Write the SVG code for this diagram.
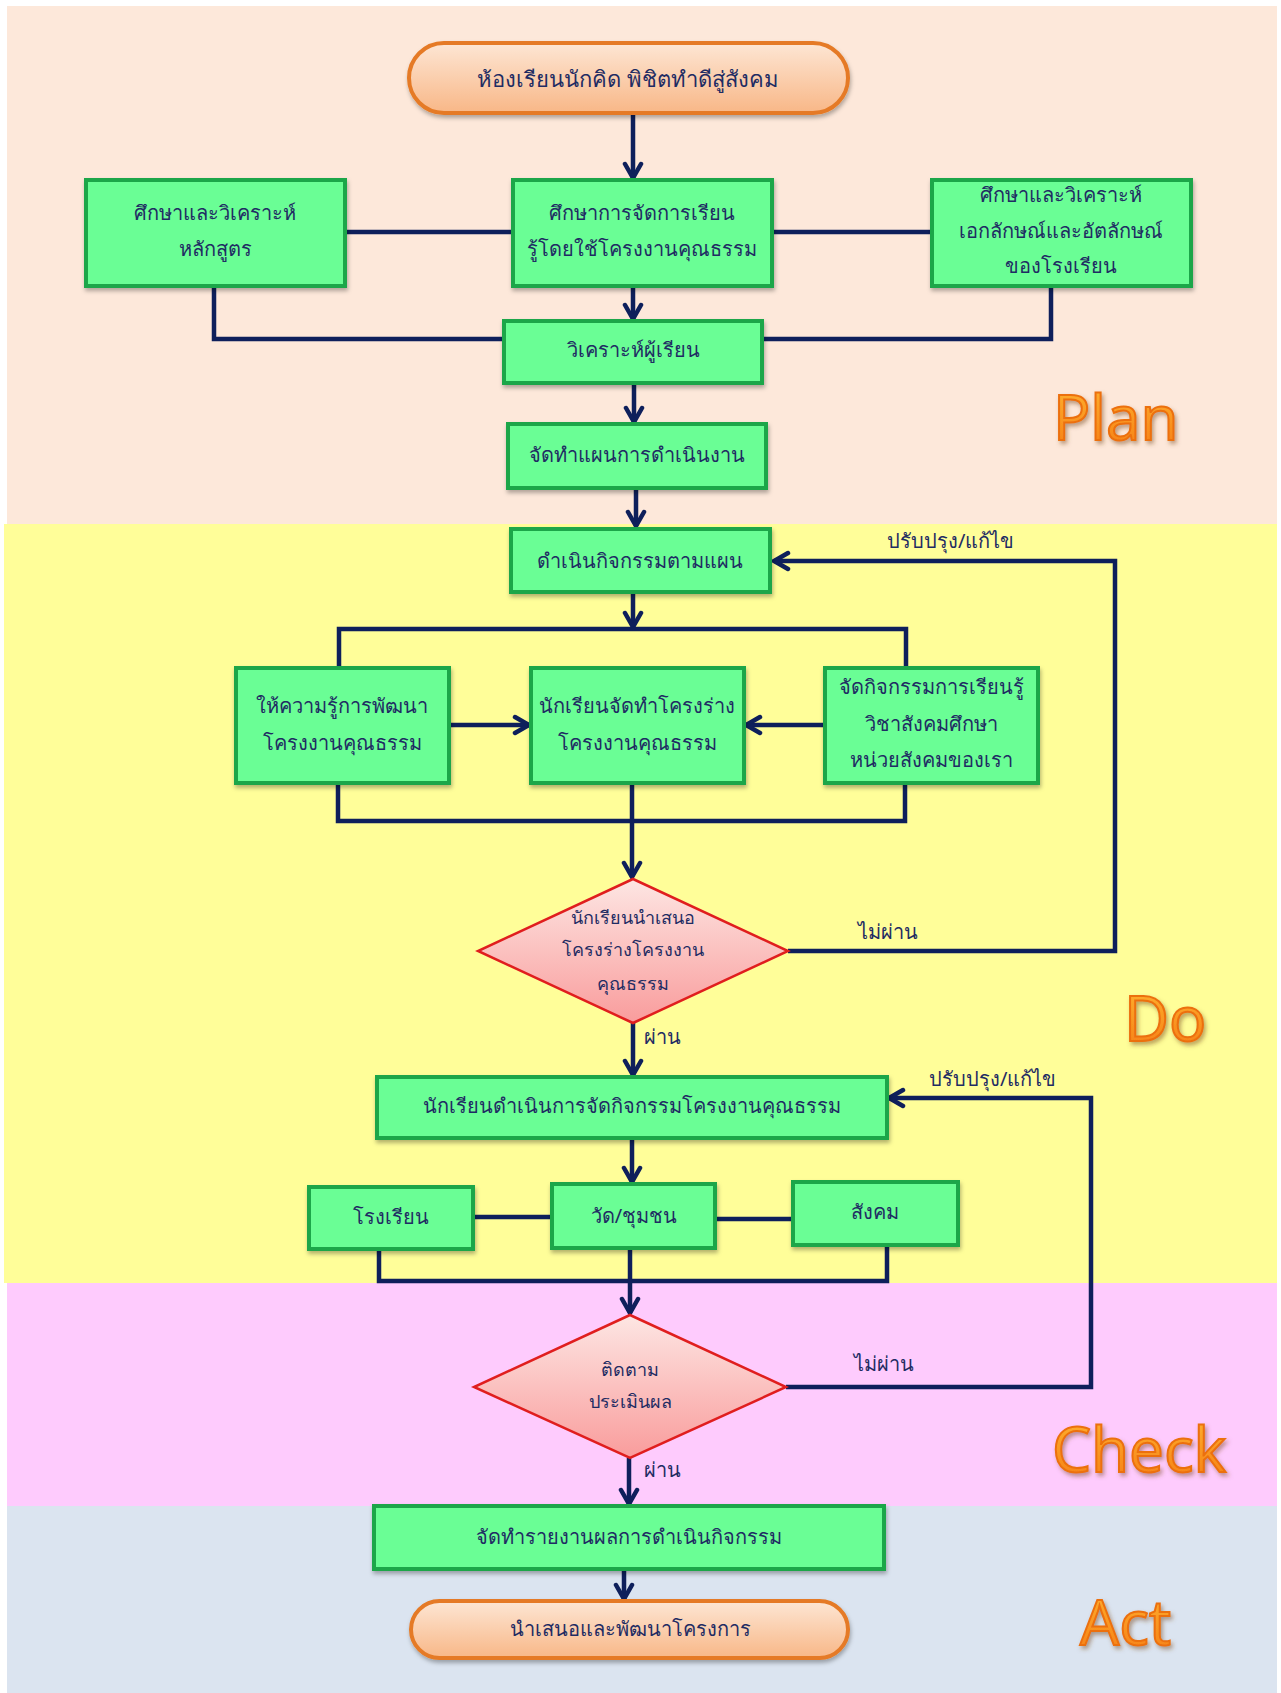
<svg xmlns="http://www.w3.org/2000/svg" width="1281" height="1693" viewBox="0 0 1281 1693">
<defs>
<linearGradient id="gTerm" x1="0" y1="0" x2="0" y2="1"><stop offset="0" stop-color="#fde6d4"/><stop offset="1" stop-color="#f8b787"/></linearGradient>
<linearGradient id="gDia" x1="0" y1="0" x2="0" y2="1"><stop offset="0" stop-color="#fde6e3"/><stop offset="1" stop-color="#f99c9c"/></linearGradient>
<linearGradient id="gPhase" x1="0" y1="0" x2="0" y2="1"><stop offset="0" stop-color="#ffb833"/><stop offset="1" stop-color="#f57a12"/></linearGradient>
<filter id="sh" x="-10%" y="-10%" width="120%" height="130%"><feDropShadow dx="1" dy="3" stdDeviation="2" flood-color="#000" flood-opacity="0.3"/></filter>
<filter id="psh" x="-10%" y="-10%" width="130%" height="140%"><feDropShadow dx="2" dy="3" stdDeviation="2" flood-color="#7a4a20" flood-opacity="0.5"/></filter>
<marker id="arr" markerUnits="userSpaceOnUse" markerWidth="24" markerHeight="24" viewBox="0 0 24 24" refX="20" refY="12" orient="auto">
<path d="M6,4 L20,12 L6,20" fill="none" stroke="#0e1f5b" stroke-width="4.5" stroke-linecap="round" stroke-linejoin="miter"/>
</marker>
<style>
.box{fill:#6bfe95;stroke:#1ca64a;stroke-width:4;filter:url(#sh)}
.term{fill:url(#gTerm);stroke:#e57a25;stroke-width:4;filter:url(#sh)}
.dia{fill:url(#gDia);stroke:#e01e1e;stroke-width:2.5}
.t{font-family:"Noto Sans","DejaVu Sans",sans-serif;font-size:20px;fill:#1f2c63;text-anchor:middle;dominant-baseline:central}
.ts{font-size:18px}
.lbl{font-family:"Noto Sans","DejaVu Sans",sans-serif;font-size:20px;fill:#1f2c63;dominant-baseline:central}
.ln{fill:none;stroke:#0e1f5b;stroke-width:4.5}
.ar{fill:none;stroke:#0e1f5b;stroke-width:4.5;marker-end:url(#arr)}
.ph{font-family:"Open Sans","Lato",sans-serif;font-size:62px;fill:url(#gPhase);stroke:#ec6f10;stroke-width:2;filter:url(#psh)}
</style>
</defs>
<g id="background">
<rect x="7" y="6" width="1270" height="518" fill="#fde8da"/>
<rect x="4" y="524" width="1273" height="759" fill="#fffe99"/>
<rect x="7" y="1283" width="1270" height="223" fill="#fecbfd"/>
<rect x="7" y="1506" width="1270" height="187" fill="#dbe4f0"/>
</g>
<g id="phases">
<text class="ph" x="1053" y="440">Plan</text>
<text class="ph" x="1124" y="1041">Do</text>
<text class="ph" x="1052" y="1472">Check</text>
<text class="ph" x="1080" y="1645">Act</text>
</g>
<g id="connectors">
<line class="ar" x1="633" y1="113" x2="633" y2="178"/>
<line class="ln" x1="345" y1="232" x2="513" y2="232"/>
<line class="ln" x1="772" y1="232" x2="932" y2="232"/>
<polyline class="ln" points="214,286 214,339 505,339"/>
<polyline class="ln" points="1051,286 1051,339 762,339"/>
<line class="ar" x1="633" y1="286" x2="633" y2="319"/>
<line class="ar" x1="634" y1="383" x2="634" y2="422"/>
<line class="ar" x1="636" y1="488" x2="636" y2="526"/>
<line class="ar" x1="633" y1="592" x2="633" y2="627"/>
<polyline class="ln" points="339,668 339,629 906,629 906,668"/>
<line class="ar" x1="449" y1="725" x2="529" y2="725"/>
<line class="ar" x1="825" y1="725" x2="746" y2="725"/>
<polyline class="ln" points="338,783 338,821 905,821 905,783"/>
<line class="ar" x1="632" y1="783" x2="632" y2="877"/>
<polyline class="ar" points="788,951 1115,951 1115,561 774,561"/>
<line class="ar" x1="633" y1="1023" x2="633" y2="1075"/>
<line class="ar" x1="632" y1="1138" x2="632" y2="1182"/>
<line class="ln" x1="473" y1="1217" x2="552" y2="1217"/>
<line class="ln" x1="715" y1="1219" x2="793" y2="1219"/>
<polyline class="ln" points="379,1249 379,1281 887,1281 887,1245"/>
<line class="ar" x1="630" y1="1248" x2="630" y2="1313"/>
<polyline class="ar" points="786,1387 1091,1387 1091,1098 889,1098"/>
<line class="ar" x1="629" y1="1458" x2="629" y2="1504"/>
<line class="ar" x1="624" y1="1569" x2="624" y2="1599"/>
<text class="lbl" x="887" y="540">ปรับปรุง/แก้ไข</text>
<text class="lbl" x="858" y="931">ไม่ผ่าน</text>
<text class="lbl" x="644" y="1036">ผ่าน</text>
<text class="lbl" x="929" y="1078">ปรับปรุง/แก้ไข</text>
<text class="lbl" x="854" y="1363">ไม่ผ่าน</text>
<text class="lbl" x="644" y="1469">ผ่าน</text>
</g>
<g id="n_start"><rect class="term" x="409" y="43" width="439" height="70" rx="35"/><text class="t" x="628" y="78" style="font-size:22px;font-weight:500">ห้องเรียนนักคิด พิชิตทำดีสู่สังคม</text></g>
<g id="n_curriculum"><rect class="box" x="86" y="180" width="259" height="106"/><text class="t" x="215" y="212">ศึกษาและวิเคราะห์</text><text class="t" x="215" y="248">หลักสูตร</text></g>
<g id="n_study"><rect class="box" x="513" y="180" width="259" height="106"/><text class="t" x="642" y="212">ศึกษาการจัดการเรียน</text><text class="t" x="642" y="248">รู้โดยใช้โครงงานคุณธรรม</text></g>
<g id="n_identity"><rect class="box" x="932" y="180" width="259" height="106"/><text class="t" x="1061" y="194">ศึกษาและวิเคราะห์</text><text class="t" x="1061" y="230">เอกลักษณ์และอัตลักษณ์</text><text class="t" x="1061" y="265">ของโรงเรียน</text></g>
<g id="n_learner"><rect class="box" x="504" y="321" width="258" height="62"/><text class="t" x="633" y="349">วิเคราะห์ผู้เรียน</text></g>
<g id="n_plan"><rect class="box" x="508" y="424" width="258" height="64"/><text class="t" x="637" y="454">จัดทำแผนการดำเนินงาน</text></g>
<g id="n_do"><rect class="box" x="511" y="529" width="259" height="63"/><text class="t" x="640" y="560">ดำเนินกิจกรรมตามแผน</text></g>
<g id="n_knowledge"><rect class="box" x="236" y="668" width="213" height="115"/><text class="t" x="342" y="705">ให้ความรู้การพัฒนา</text><text class="t" x="342" y="742">โครงงานคุณธรรม</text></g>
<g id="n_draft"><rect class="box" x="531" y="668" width="213" height="115"/><text class="t" x="637" y="705">นักเรียนจัดทำโครงร่าง</text><text class="t" x="637" y="742">โครงงานคุณธรรม</text></g>
<g id="n_social"><rect class="box" x="825" y="668" width="213" height="115"/><text class="t" x="931" y="686">จัดกิจกรรมการเรียนรู้</text><text class="t" x="931" y="723">วิชาสังคมศึกษา</text><text class="t" x="931" y="759">หน่วยสังคมของเรา</text></g>
<g id="n_present"><polygon class="dia" points="633,879 788,951 633,1023 478,951"/><text class="t ts" x="633" y="917">นักเรียนนำเสนอ</text><text class="t ts" x="633" y="949">โครงร่างโครงงาน</text><text class="t ts" x="633" y="983">คุณธรรม</text></g>
<g id="n_implement"><rect class="box" x="377" y="1077" width="510" height="61"/><text class="t" x="632" y="1105">นักเรียนดำเนินการจัดกิจกรรมโครงงานคุณธรรม</text></g>
<g id="n_school"><rect class="box" x="309" y="1187" width="164" height="62"/><text class="t" x="391" y="1216">โรงเรียน</text></g>
<g id="n_temple"><rect class="box" x="552" y="1184" width="163" height="64"/><text class="t" x="634" y="1215">วัด/ชุมชน</text></g>
<g id="n_society"><rect class="box" x="793" y="1182" width="165" height="63"/><text class="t" x="875" y="1211">สังคม</text></g>
<g id="n_evaluate"><polygon class="dia" points="630,1315 786,1387 630,1458 474,1387"/><text class="t ts" x="630" y="1369">ติดตาม</text><text class="t ts" x="630" y="1401">ประเมินผล</text></g>
<g id="n_report"><rect class="box" x="374" y="1506" width="510" height="63"/><text class="t" x="629" y="1536">จัดทำรายงานผลการดำเนินกิจกรรม</text></g>
<g id="n_end"><rect class="term" x="411" y="1601" width="437" height="57" rx="28.5"/><text class="t" x="630" y="1628">นำเสนอและพัฒนาโครงการ</text></g>
</svg>
